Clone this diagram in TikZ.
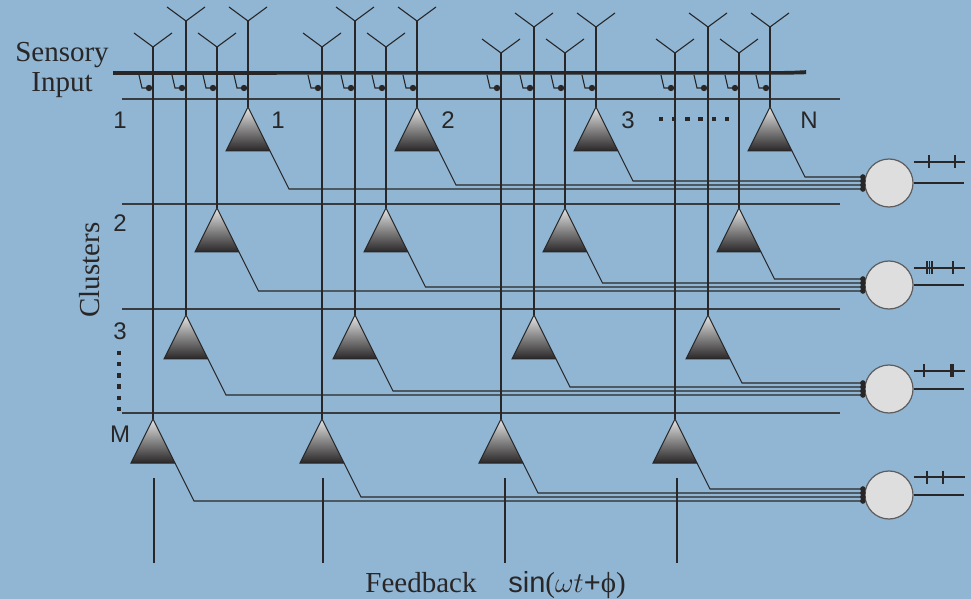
\documentclass[tikz,border=0pt]{standalone}
\usepackage{fontspec}
\setmainfont{Liberation Serif}
\setsansfont{Liberation Sans}
\usetikzlibrary{calc}
\definecolor{sky}{RGB}{144,182,212}
\definecolor{ink}{RGB}{40,38,38}
\definecolor{soma}{RGB}{222,222,222}

\begin{document}
\begin{tikzpicture}[x=0.5pt,y=-0.5pt,
    fiber/.style={draw=ink,line width=0.55pt},
    sheet/.style={draw=ink!85!sky,line width=0.6pt},
    cell/.style={circle,draw=ink!75,fill=soma,line width=0.6pt,minimum size=24pt,inner sep=0pt},
    num/.style={font=\sffamily\fontsize{12}{12}\selectfont,text=ink,inner sep=0pt},
    word/.style={font=\fontsize{14.5}{14.5}\selectfont,text=ink,inner sep=0pt}]
  \fill[sky] (0,0) rectangle (971,599);
  \useasboundingbox (0,0) rectangle (971,599);

  % sensory sheet (thickening at its end) and cluster borders
  \fill[ink] (113,71.2) -- (790,71) -- (806,70.2) -- (806,74.2) -- (790,74.6) -- (113,74.8) -- cycle;
  \foreach \y in {99,204,309,413} \draw[sheet] (122,\y) -- (840,\y);

  % output cells with their spike trains
  \foreach \r/\cy/\sy/\ticks in {1/183/162/{929,955},2/285/268/{927,929.5,932,953},
      3/389/371/{924,951,953},4/495/477/{927,943}}{
    \node[cell] (n\r) at (889,\cy) {};
    \draw[fiber] (n\r.east) -- (964,\cy);
    \draw[fiber] (n\r.east |- 0,\sy) -- (965,\sy);
    \foreach \t in \ticks \draw[fiber] (\t,\sy-6.5) -- (\t,\sy+6.5);
  }

  % pyramids: apical dendrite with tuft, synapse under the sheet, axon to the output cell
  \foreach \g/\gx/\gy in {1/153/0,2/322/0,3/501/6,4/675/6}{
    \foreach \r/\dx/\ay/\ty/\cy in {1/95/107/21/183,2/64/208/47/285,3/33/315/21/389,4/0/419/47/495}{
      \coordinate (p\g\r) at (\gx+\dx,\ay);
      \coordinate (t\g\r) at (\gx+\dx,\ty+\gy);
      \draw[fiber] (p\g\r) -- (t\g\r);
      \draw[fiber] (t\g\r) ++(-19,-14) -- (t\g\r) -- ++(19,-14);
      \draw[fiber] (t\g\r |- 0,75) ++(-14,0) -- ++(3,13) -- ++(7,0);
      \fill[ink] (t\g\r |- 0,88) ++(-4,0) circle (1.6pt);
      \pgfmathsetmacro\yh{\cy+10-4*\g}
      \pgfmathsetmacro\xe{\gx+\dx+0.5*(\yh-\ay)}
      \draw[fiber] (p\g\r) ++(22,44) -- (\xe,\yh) -- (n\r.west |- 0,\yh);
      \fill[ink] (n\r.west |- 0,\yh) ++(-1.5,0) circle (1.4pt);
      \shade[top color=white!88!ink,bottom color=ink,draw=ink,line width=0.5pt]
        (p\g\r) -- ++(-22,44) -- ++(44,0) -- cycle;
    }
  }

  % feedback lines
  \foreach \x in {154,323,505,677} \draw[fiber] (\x,478) -- (\x,563);

  % labels
  \node[word,anchor=base] (sensory) at (62,62) {Sensory};
  \node[word,anchor=base] (input) at (62,92) {Input};
  \node[word,rotate=90] (clusters) at (90,270) {Clusters};
  \node[word,anchor=base] (feedback) at (421,592) {Feedback};
  \node[word,anchor=base] (drive) at (567,592) {\sffamily sin\rmfamily($\omega t$\sffamily +\rmfamily ϕ)};
  \foreach \r/\txt/\y in {1/1/120,2/2/223,3/3/331,4/M/434} \node[num] (row\r) at (120,\y) {\txt};
  \foreach \c/\txt/\x in {1/1/278,2/2/448,3/3/628,4/N/809} \node[num] (col\c) at (\x,120) {\txt};
  \foreach \k in {0,...,5}{
    \fill[ink] (661+13.2*\k,119) ++(-1.1pt,-1.1pt) rectangle ++(2.2pt,2.2pt);
    \fill[ink] (119,353+11.2*\k) ++(-1.1pt,-1.1pt) rectangle ++(2.2pt,2.2pt);
  }
\end{tikzpicture}
\end{document}
